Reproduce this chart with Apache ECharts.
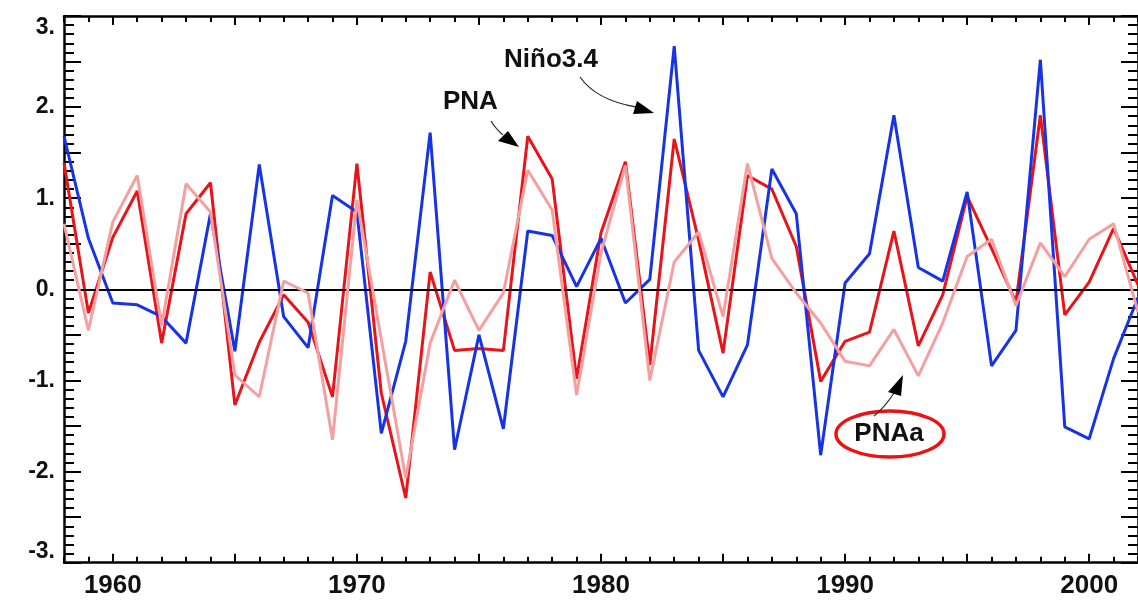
<!DOCTYPE html>
<html>
<head>
<meta charset="utf-8">
<script src="https://cdn.jsdelivr.net/npm/echarts@6/dist/echarts.min.js"></script>
<style>
html,body{margin:0;padding:0;background:#fff;}
#chart{width:1138px;height:605px;}
</style>
</head>
<body>
<div id="chart"></div>
<script>
var years = [];
for (var y = 1958; y <= 2002; y++) years.push(String(y));

var nino34 = [1.68, 0.56, -0.15, -0.17, -0.30, -0.59, 0.83, -0.68, 1.37, -0.30,
              -0.64, 1.03, 0.85, -1.58, -0.57, 1.72, -1.76, -0.50, -1.53, 0.64,
              0.59, 0.03, 0.56, -0.15, 0.11, 2.67, -0.67, -1.18, -0.61, 1.32,
              0.83, -1.82, 0.07, 0.39, 1.91, 0.24, 0.09, 1.07, -0.84, -0.45,
              2.52, -1.51, -1.64, -0.76, -0.09];

var pna = [1.39, -0.26, 0.57, 1.08, -0.59, 0.83, 1.17, -1.27, -0.58, -0.06,
           -0.36, -1.18, 1.38, -1.14, -2.29, 0.19, -0.67, -0.65, -0.67, 1.68,
           1.21, -0.98, 0.62, 1.40, -0.83, 1.65, 0.54, -0.70, 1.25, 1.10,
           0.47, -1.01, -0.57, -0.47, 0.64, -0.62, -0.06, 1.02, 0.45, -0.14,
           1.91, -0.28, 0.08, 0.67, 0.05];

var pnaa = [0.72, -0.45, 0.74, 1.25, -0.40, 1.16, 0.85, -0.94, -1.18, 0.09,
            -0.04, -1.65, 0.98, -0.55, -2.07, -0.59, 0.10, -0.45, -0.04, 1.31,
            0.87, -1.16, 0.40, 1.36, -1.00, 0.30, 0.63, -0.30, 1.38, 0.34,
            -0.04, -0.37, -0.79, -0.84, -0.44, -0.95, -0.37, 0.36, 0.55, -0.18,
            0.51, 0.14, 0.55, 0.72, -0.25];

var yMin = -3, yMax = 3, yStep = 0.5;

var FONT = 'Liberation Sans, Arial, sans-serif';

function xAxisDef(pos, tickLen, every, showLine, showLabel) {
  return {
    type: 'category',
    position: pos,
    data: years,
    boundaryGap: false,
    axisLine: {show: showLine, onZero: false, lineStyle: {color: '#000', width: 2.5}},
    axisTick: {
      show: true, inside: true, length: tickLen,
      interval: function (i, v) { return (+v) % every === 0; },
      lineStyle: {color: '#000', width: 2}
    },
    axisLabel: {
      show: showLabel,
      interval: function (i, v) { return (+v) % 10 === 0; },
      fontFamily: FONT, fontWeight: 'bold', fontSize: 26, color: '#111', margin: 10
    },
    splitLine: {show: false}
  };
}

function yAxisDef(pos, showLabel) {
  return {
    type: 'value',
    position: pos,
    min: yMin, max: yMax, interval: yStep,
    axisLine: {show: true, onZero: false, lineStyle: {color: '#000', width: 2.5}},
    axisTick: {show: true, inside: true, length: 17, lineStyle: {color: '#000', width: 2}},
    minorTick: {show: true, splitNumber: 5, length: 10, lineStyle: {color: '#000', width: 2}},
    axisLabel: {
      show: showLabel,
      margin: 9,
      fontFamily: FONT, fontWeight: 'bold', fontSize: 23, color: '#111',
      verticalAlignMaxLabel: 'top',
      verticalAlignMinLabel: 'bottom',
      formatter: function (v) {
        if (Math.abs(v - Math.round(v)) > 1e-6) return '';
        var r = Math.round(v);
        return (r === 0 ? '0' : String(r)) + '.';
      }
    },
    splitLine: {show: false},
    minorSplitLine: {show: false}
  };
}

function lineSeries(name, data, color, z) {
  return {
    name: name, type: 'line', data: data,
    xAxisIndex: 0, yAxisIndex: 0,
    symbol: 'none', smooth: false, z: z,
    lineStyle: {color: color, width: 3},
    animation: false
  };
}

function arrow(x0, y0, cx, cy, x1, y1, tip, b1, b2, w) {
  return [
    {type: 'bezierCurve', shape: {x1: x0, y1: y0, cpx1: cx, cpy1: cy, x2: x1, y2: y1},
     style: {stroke: '#333', lineWidth: w || 1.3, fill: null}, z: 100},
    {type: 'polygon', shape: {points: [tip, b1, b2]}, style: {fill: '#000'}, z: 100}
  ];
}

var graphics = [];
graphics.push({type: 'text', left: 504, top: 47, z: 100,
  style: {text: 'Niño3.4', font: 'bold 26px ' + FONT, fill: '#111'}});
graphics.push({type: 'text', left: 443, top: 89, z: 100,
  style: {text: 'PNA', font: 'bold 26px ' + FONT, fill: '#111'}});
graphics.push({type: 'ellipse', z: 100,
  shape: {cx: 890, cy: 434, rx: 54, ry: 23},
  style: {fill: '#fff', stroke: '#ee1111', lineWidth: 3.5}});
graphics.push({type: 'text', z: 101, x: 889, y: 434,
  style: {text: 'PNAa', font: 'bold 26px ' + FONT, fill: '#111', align: 'center', verticalAlign: 'middle'}});
graphics = graphics.concat(arrow(580, 77, 596, 100, 636, 107, [654, 113], [637, 101], [633, 114]));
graphics = graphics.concat(arrow(491, 121, 495, 128, 503, 135, [519, 147], [498, 141], [508, 131]));
graphics = graphics.concat(arrow(874, 416, 885, 407, 894, 393, [903, 375], [888, 392], [901, 396]));

var chart = echarts.init(document.getElementById('chart'), null, {renderer: 'canvas'});
chart.setOption({
  animation: false,
  backgroundColor: '#fff',
  grid: {left: 64, top: 16, width: 1076, height: 546.7, containLabel: false},
  xAxis: [
    xAxisDef('bottom', 6, 1, true, true),
    xAxisDef('bottom', 9, 5, false, false),
    xAxisDef('top', 6, 1, true, false),
    xAxisDef('top', 9, 5, false, false)
  ],
  yAxis: [yAxisDef('left', true), yAxisDef('right', false)],
  series: [
    {
      type: 'line', data: [], xAxisIndex: 0, yAxisIndex: 0, symbol: 'none',
      markLine: {
        silent: true, symbol: ['none', 'none'], label: {show: false}, animation: false,
        lineStyle: {color: '#000', width: 1.8, type: 'solid'},
        data: [{yAxis: 0}]
      },
      z: 1
    },
    lineSeries('PNA', pna, '#e8141a', 3),
    lineSeries('Niño3.4', nino34, '#1733e6', 4),
    lineSeries('PNAa', pnaa, '#f4a0a0', 5)
  ],
  graphic: graphics
});
</script>
</body>
</html>
